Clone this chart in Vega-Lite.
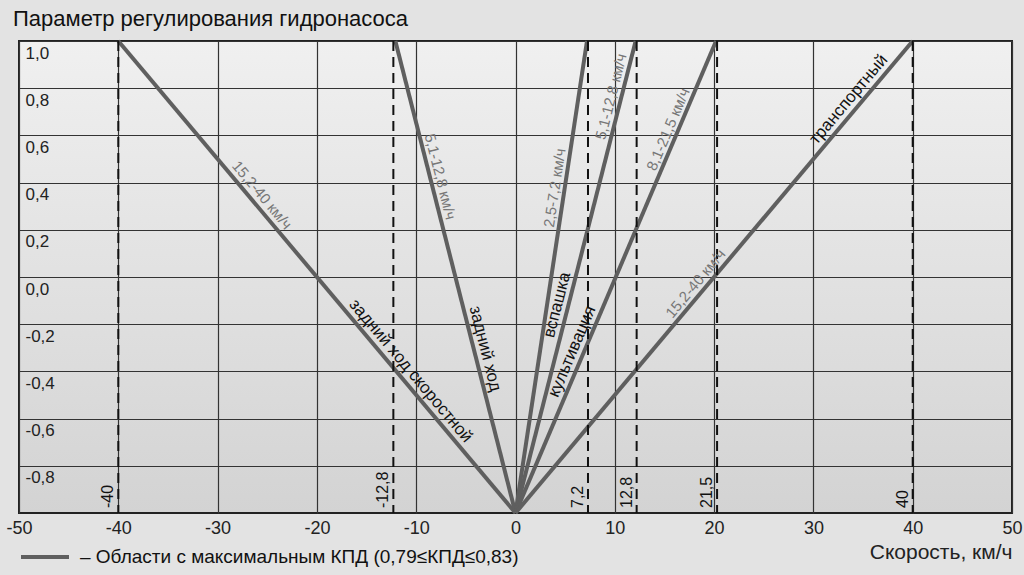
{
  "$schema": "https://vega.github.io/schema/vega-lite/v6.json",
  "width": 993,
  "height": 472,
  "autosize": "none",
  "padding": {"left": 19, "top": 41, "right": 12, "bottom": 62},
  "background": "#e3e3e3",
  "title": {"text": "Параметр регулирования гидронасоса", "anchor": "start", "frame": "group", "fontSize": 22, "font": "Liberation Sans", "fontWeight": "normal", "color": "#111", "offset": 2, "dx": -6},
  "config": {
    "font": "Liberation Sans",
    "view": {"stroke": "#222", "strokeWidth": 2, "fill": {"gradient": "linear", "x1": 0, "y1": 0, "x2": 0, "y2": 1, "stops": [{"offset": 0, "color": "#f0f0f0"}, {"offset": 1, "color": "#d3d3d3"}]}}
  },
  "datasets": {
    "lines": [
      {"line": "A", "x": 0, "y": -1}, {"line": "A", "x": -40, "y": 1},
      {"line": "B", "x": 0, "y": -1}, {"line": "B", "x": -12.1, "y": 1},
      {"line": "C1", "x": 0, "y": -1}, {"line": "C1", "x": 7.2, "y": 1},
      {"line": "C2", "x": 0, "y": -1}, {"line": "C2", "x": 12.1, "y": 1},
      {"line": "C3", "x": 0, "y": -1}, {"line": "C3", "x": 20.2, "y": 1},
      {"line": "C4", "x": 0, "y": -1}, {"line": "C4", "x": 40, "y": 1}
    ],
    "dashes": [
      {"x": -40, "label": "-40"},
      {"x": -12.3, "label": "-12,8"},
      {"x": 7.3, "label": "7,2"},
      {"x": 12.2, "label": "12,8"},
      {"x": 20.3, "label": "21,5"},
      {"x": 40, "label": "40"}
    ],
    "labels": [
      {"line": "A", "x": -26.3, "y": 0.32, "text": "15,2-40 км/ч", "kind": "range"},
      {"line": "A", "x": -11.4, "y": -0.428, "text": "задний ход скоростной", "kind": "name"},
      {"line": "B", "x": -8.56, "y": 0.415, "text": "5,1-12,8 км/ч", "kind": "range"},
      {"line": "B", "x": -4.14, "y": -0.315, "text": "задний ход", "kind": "name"},
      {"line": "C1", "x": 4.94, "y": 0.371, "text": "2,5-7,2 км/ч", "kind": "range"},
      {"line": "C2", "x": 10.6, "y": 0.754, "text": "5,1-12,8 км/ч", "kind": "range"},
      {"line": "C2", "x": 5.27, "y": -0.13, "text": "вспашка", "kind": "name"},
      {"line": "C3", "x": 16.3, "y": 0.609, "text": "8,1-21,5 км/ч", "kind": "range"},
      {"line": "C3", "x": 6.73, "y": -0.334, "text": "культивация", "kind": "name"},
      {"line": "C4", "x": 18.9, "y": -0.055, "text": "15,2-40 км/ч", "kind": "range"},
      {"line": "C4", "x": 34.4, "y": 0.722, "text": "транспортный", "kind": "name"}
    ]
  },
  "layer": [
    {
      "data": {"name": "lines"},
      "mark": {"type": "line", "strokeWidth": 4, "clip": false},
      "encoding": {
        "x": {"field": "x", "type": "quantitative", "scale": {"domain": [-50, 50], "nice": false, "zero": false},
          "axis": {"values": [-50, -40, -30, -20, -10, 0, 10, 20, 30, 40, 50], "grid": true, "gridColor": "#333", "gridWidth": 1.2, "ticks": false, "tickSize": 0, "domain": false, "labelFontSize": 18, "labelColor": "#222", "labelPadding": 6, "labelFlush": false, "labelOverlap": false, "labelExpr": "replace(format(datum.value, 'd'), '−', '-')", "title": "Скорость, км/ч", "titleFontSize": 21, "titleFontWeight": "normal", "titleColor": "#222", "titleAnchor": "end", "titleAlign": "right", "titlePadding": 4}},
        "y": {"field": "y", "type": "quantitative", "scale": {"domain": [-1, 1], "nice": false, "zero": false},
          "axis": {"values": [1, 0.8, 0.6, 0.4, 0.2, 0, -0.2, -0.4, -0.6, -0.8], "grid": true, "gridColor": "#333", "gridWidth": 1.2, "ticks": false, "tickSize": 0, "domain": false, "labelAlign": "left", "labelBaseline": "top", "labelPadding": -6, "labelOffset": 4, "labelFontSize": 17, "labelColor": "#222", "labelExpr": "replace(replace(format(datum.value, '.1f'), '.', ','), '−', '-')", "title": null}},
        "detail": {"field": "line"},
        "color": {"datum": "– Области с максимальным КПД (0,79≤КПД≤0,83)", "type": "nominal", "scale": {"range": ["#5f5f5f"]},
          "legend": {"orient": "none", "legendX": 0, "legendY": 490, "title": null, "symbolType": "stroke", "symbolSize": 2304, "symbolStrokeWidth": 4, "labelFontSize": 19, "labelColor": "#111", "labelOffset": 9, "labelLimit": 0}}
      }
    },
    {
      "mark": {"type": "rule", "color": "#2a2a2a", "strokeWidth": 2},
      "encoding": {"y": {"datum": 0}}
    },
    {
      "data": {"name": "dashes"},
      "mark": {"type": "rule", "color": "#111", "strokeWidth": 2, "strokeDash": [10, 6]},
      "encoding": {"x": {"field": "x", "type": "quantitative"}}
    },
    {
      "data": {"name": "dashes"},
      "mark": {"type": "text", "angle": 270, "align": "left", "baseline": "bottom", "dx": 5, "dy": -2, "fontSize": 16, "color": "#111"},
      "encoding": {"x": {"field": "x", "type": "quantitative"}, "y": {"datum": -1}, "text": {"field": "label"}}
    },
    {
      "data": {"name": "labels"},
      "transform": [{"filter": "datum.line === 'A'"}],
      "mark": {"type": "text", "angle": 50, "align": "center", "baseline": "bottom", "dy": -2},
      "encoding": {"x": {"field": "x", "type": "quantitative"}, "y": {"field": "y", "type": "quantitative"}, "text": {"field": "text"},
        "color": {"condition": {"test": "datum.kind === 'range'", "value": "#777"}, "value": "#111"},
        "size": {"condition": {"test": "datum.kind === 'range'", "value": 15}, "value": 17}}
    },
    {
      "data": {"name": "labels"},
      "transform": [{"filter": "datum.line === 'B'"}],
      "mark": {"type": "text", "angle": 75.7, "align": "center", "baseline": "bottom", "dy": -2},
      "encoding": {"x": {"field": "x", "type": "quantitative"}, "y": {"field": "y", "type": "quantitative"}, "text": {"field": "text"},
        "color": {"condition": {"test": "datum.kind === 'range'", "value": "#777"}, "value": "#111"},
        "size": {"condition": {"test": "datum.kind === 'range'", "value": 15}, "value": 17}}
    },
    {
      "data": {"name": "labels"},
      "transform": [{"filter": "datum.line === 'C1'"}],
      "mark": {"type": "text", "angle": -81.4, "align": "center", "baseline": "bottom", "dy": -2},
      "encoding": {"x": {"field": "x", "type": "quantitative"}, "y": {"field": "y", "type": "quantitative"}, "text": {"field": "text"},
        "color": {"condition": {"test": "datum.kind === 'range'", "value": "#777"}, "value": "#111"},
        "size": {"condition": {"test": "datum.kind === 'range'", "value": 15}, "value": 17}}
    },
    {
      "data": {"name": "labels"},
      "transform": [{"filter": "datum.line === 'C2'"}],
      "mark": {"type": "text", "angle": -75.7, "align": "center", "baseline": "bottom", "dy": -2},
      "encoding": {"x": {"field": "x", "type": "quantitative"}, "y": {"field": "y", "type": "quantitative"}, "text": {"field": "text"},
        "color": {"condition": {"test": "datum.kind === 'range'", "value": "#777"}, "value": "#111"},
        "size": {"condition": {"test": "datum.kind === 'range'", "value": 15}, "value": 17}}
    },
    {
      "data": {"name": "labels"},
      "transform": [{"filter": "datum.line === 'C3'"}],
      "mark": {"type": "text", "angle": -66.9, "align": "center", "baseline": "bottom", "dy": -2},
      "encoding": {"x": {"field": "x", "type": "quantitative"}, "y": {"field": "y", "type": "quantitative"}, "text": {"field": "text"},
        "color": {"condition": {"test": "datum.kind === 'range'", "value": "#777"}, "value": "#111"},
        "size": {"condition": {"test": "datum.kind === 'range'", "value": 15}, "value": 17}}
    },
    {
      "data": {"name": "labels"},
      "transform": [{"filter": "datum.line === 'C4'"}],
      "mark": {"type": "text", "angle": -50, "align": "center", "baseline": "bottom", "dy": -2},
      "encoding": {"x": {"field": "x", "type": "quantitative"}, "y": {"field": "y", "type": "quantitative"}, "text": {"field": "text"},
        "color": {"condition": {"test": "datum.kind === 'range'", "value": "#777"}, "value": "#111"},
        "size": {"condition": {"test": "datum.kind === 'range'", "value": 15}, "value": 17}}
    }
  ]
}
